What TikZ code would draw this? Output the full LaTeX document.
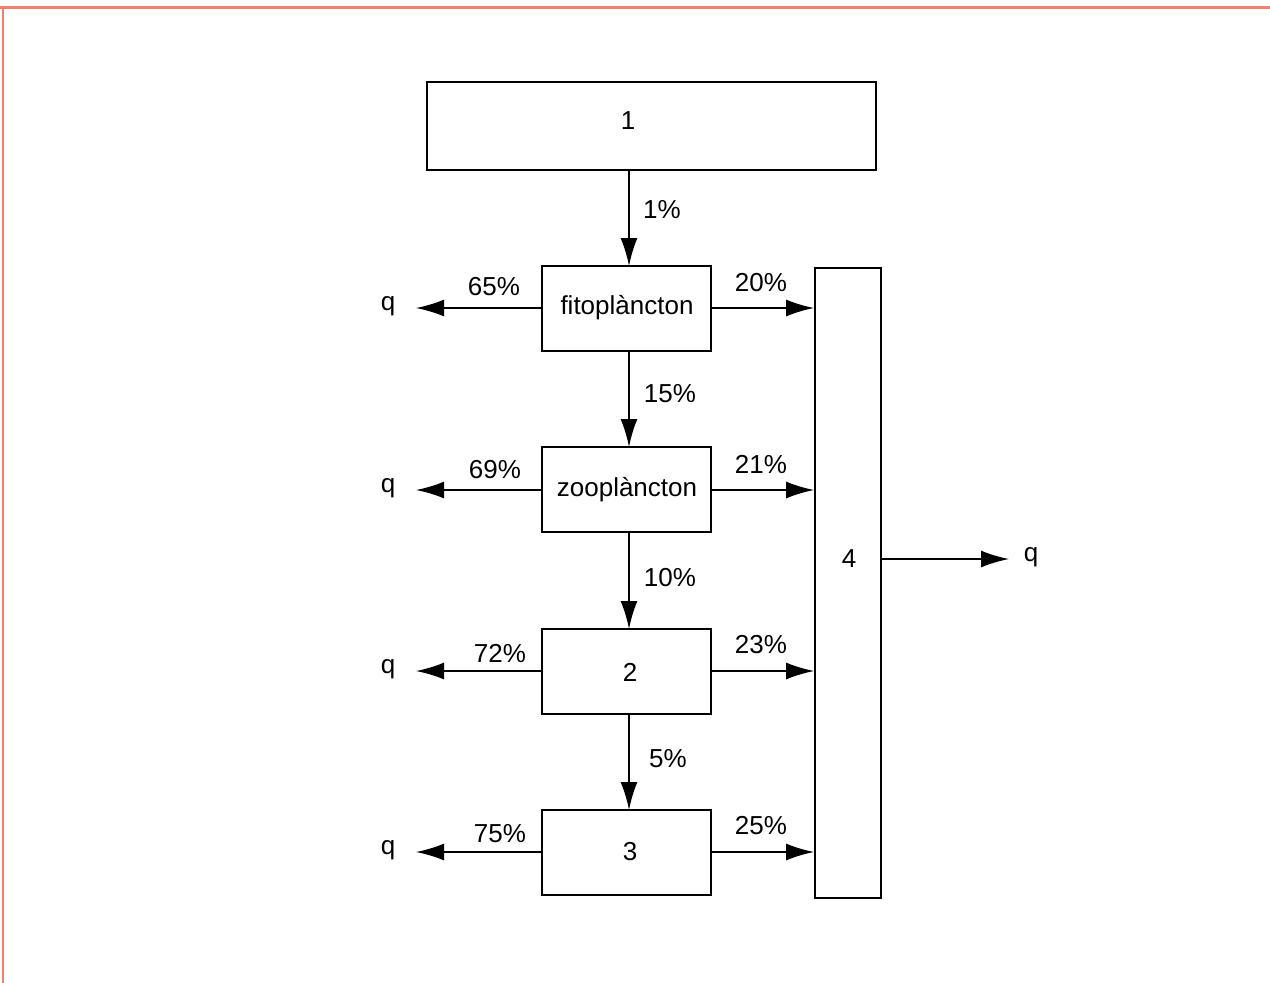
\documentclass[tikz,border=0pt]{standalone}
\usepackage{fontspec}
\setmainfont{Liberation Sans}
\usetikzlibrary{arrows.meta}
\definecolor{frame}{RGB}{242,128,112}
\begin{document}
\begin{tikzpicture}[x=1pt,y=-1pt,
  box/.style={draw,line width=1.8pt,inner sep=0pt},
  flow/.style={line width=1.8pt,-{Latex[length=28pt,width=17pt]}},
  lbl/.style={font=\fontsize{26}{30}\selectfont,inner sep=0pt}]
\useasboundingbox (0,0) rectangle (1270,983);
\fill[white] (0,0) rectangle (1270,983);
\draw[frame,line width=2.5pt] (0,7.5) -- (1270,7.5);
\draw[frame,line width=1.8pt] (3,8) -- (3,983);

\node[box,minimum width=449pt,minimum height=88pt] (b1) at (651.5,126) {};
\node[lbl] at (628,121) {1};
\node[box,minimum width=169pt,minimum height=85pt] (fito) at (626.5,308.5) {};
\node[lbl] at (627,308) {fitoplàncton};
\node[box,minimum width=169pt,minimum height=85pt] (zoo) at (626.5,489.5) {};
\node[lbl] at (627,490) {zooplàncton};
\node[box,minimum width=169pt,minimum height=85pt] (b2) at (626.5,671.5) {};
\node[lbl] at (630,672) {2};
\node[box,minimum width=169pt,minimum height=85pt] (b3) at (626.5,852.5) {};
\node[lbl] at (630,852) {3};
\node[box,minimum width=66pt,minimum height=630pt] (b4) at (848,583) {};
\node[lbl] at (849,559) {4};

% vertical flows
\draw[flow] (629,170) -- (629,266);
\node[lbl] at (662,210) {1\%};
\draw[flow] (629,351) -- (629,447);
\node[lbl] at (670,394) {15\%};
\draw[flow] (629,532) -- (629,629);
\node[lbl] at (670,578) {10\%};
\draw[flow] (629,714) -- (629,810);
\node[lbl] at (668,759) {5\%};

% left losses
\coordinate (l1) at (416,308);
\coordinate (l2) at (416,490);
\coordinate (l3) at (416,671);
\coordinate (l4) at (416,852);
\draw[flow] (fito.west |- l1) -- (l1);
\draw[flow] (zoo.west |- l2) -- (l2);
\draw[flow] (b2.west |- l3) -- (l3);
\draw[flow] (b3.west |- l4) -- (l4);
\node[lbl] (q1) at (388,306) {q};
\node[lbl] (q2) at (388,488) {q};
\node[lbl] (q3) at (388,669) {q};
\node[lbl] (q4) at (388,850) {q};
\node[lbl] at (494,287) {65\%};
\node[lbl] at (495,470) {69\%};
\node[lbl] at (500,653) {72\%};
\node[lbl] at (500,834) {75\%};

% right flows to 4
\draw[flow] (fito.east |- l1) -- (b4.west |- l1);
\draw[flow] (zoo.east |- l2) -- (b4.west |- l2);
\draw[flow] (b2.east |- l3) -- (b4.west |- l3);
\draw[flow] (b3.east |- l4) -- (b4.west |- l4);
\node[lbl] at (761,283) {20\%};
\node[lbl] at (761,464) {21\%};
\node[lbl] at (761,645) {23\%};
\node[lbl] at (761,826) {25\%};

\coordinate (r4) at (1009,559);
\draw[flow] (b4.east |- r4) -- (r4);
\node[lbl] (q5) at (1031,557) {q};
\end{tikzpicture}
\end{document}
